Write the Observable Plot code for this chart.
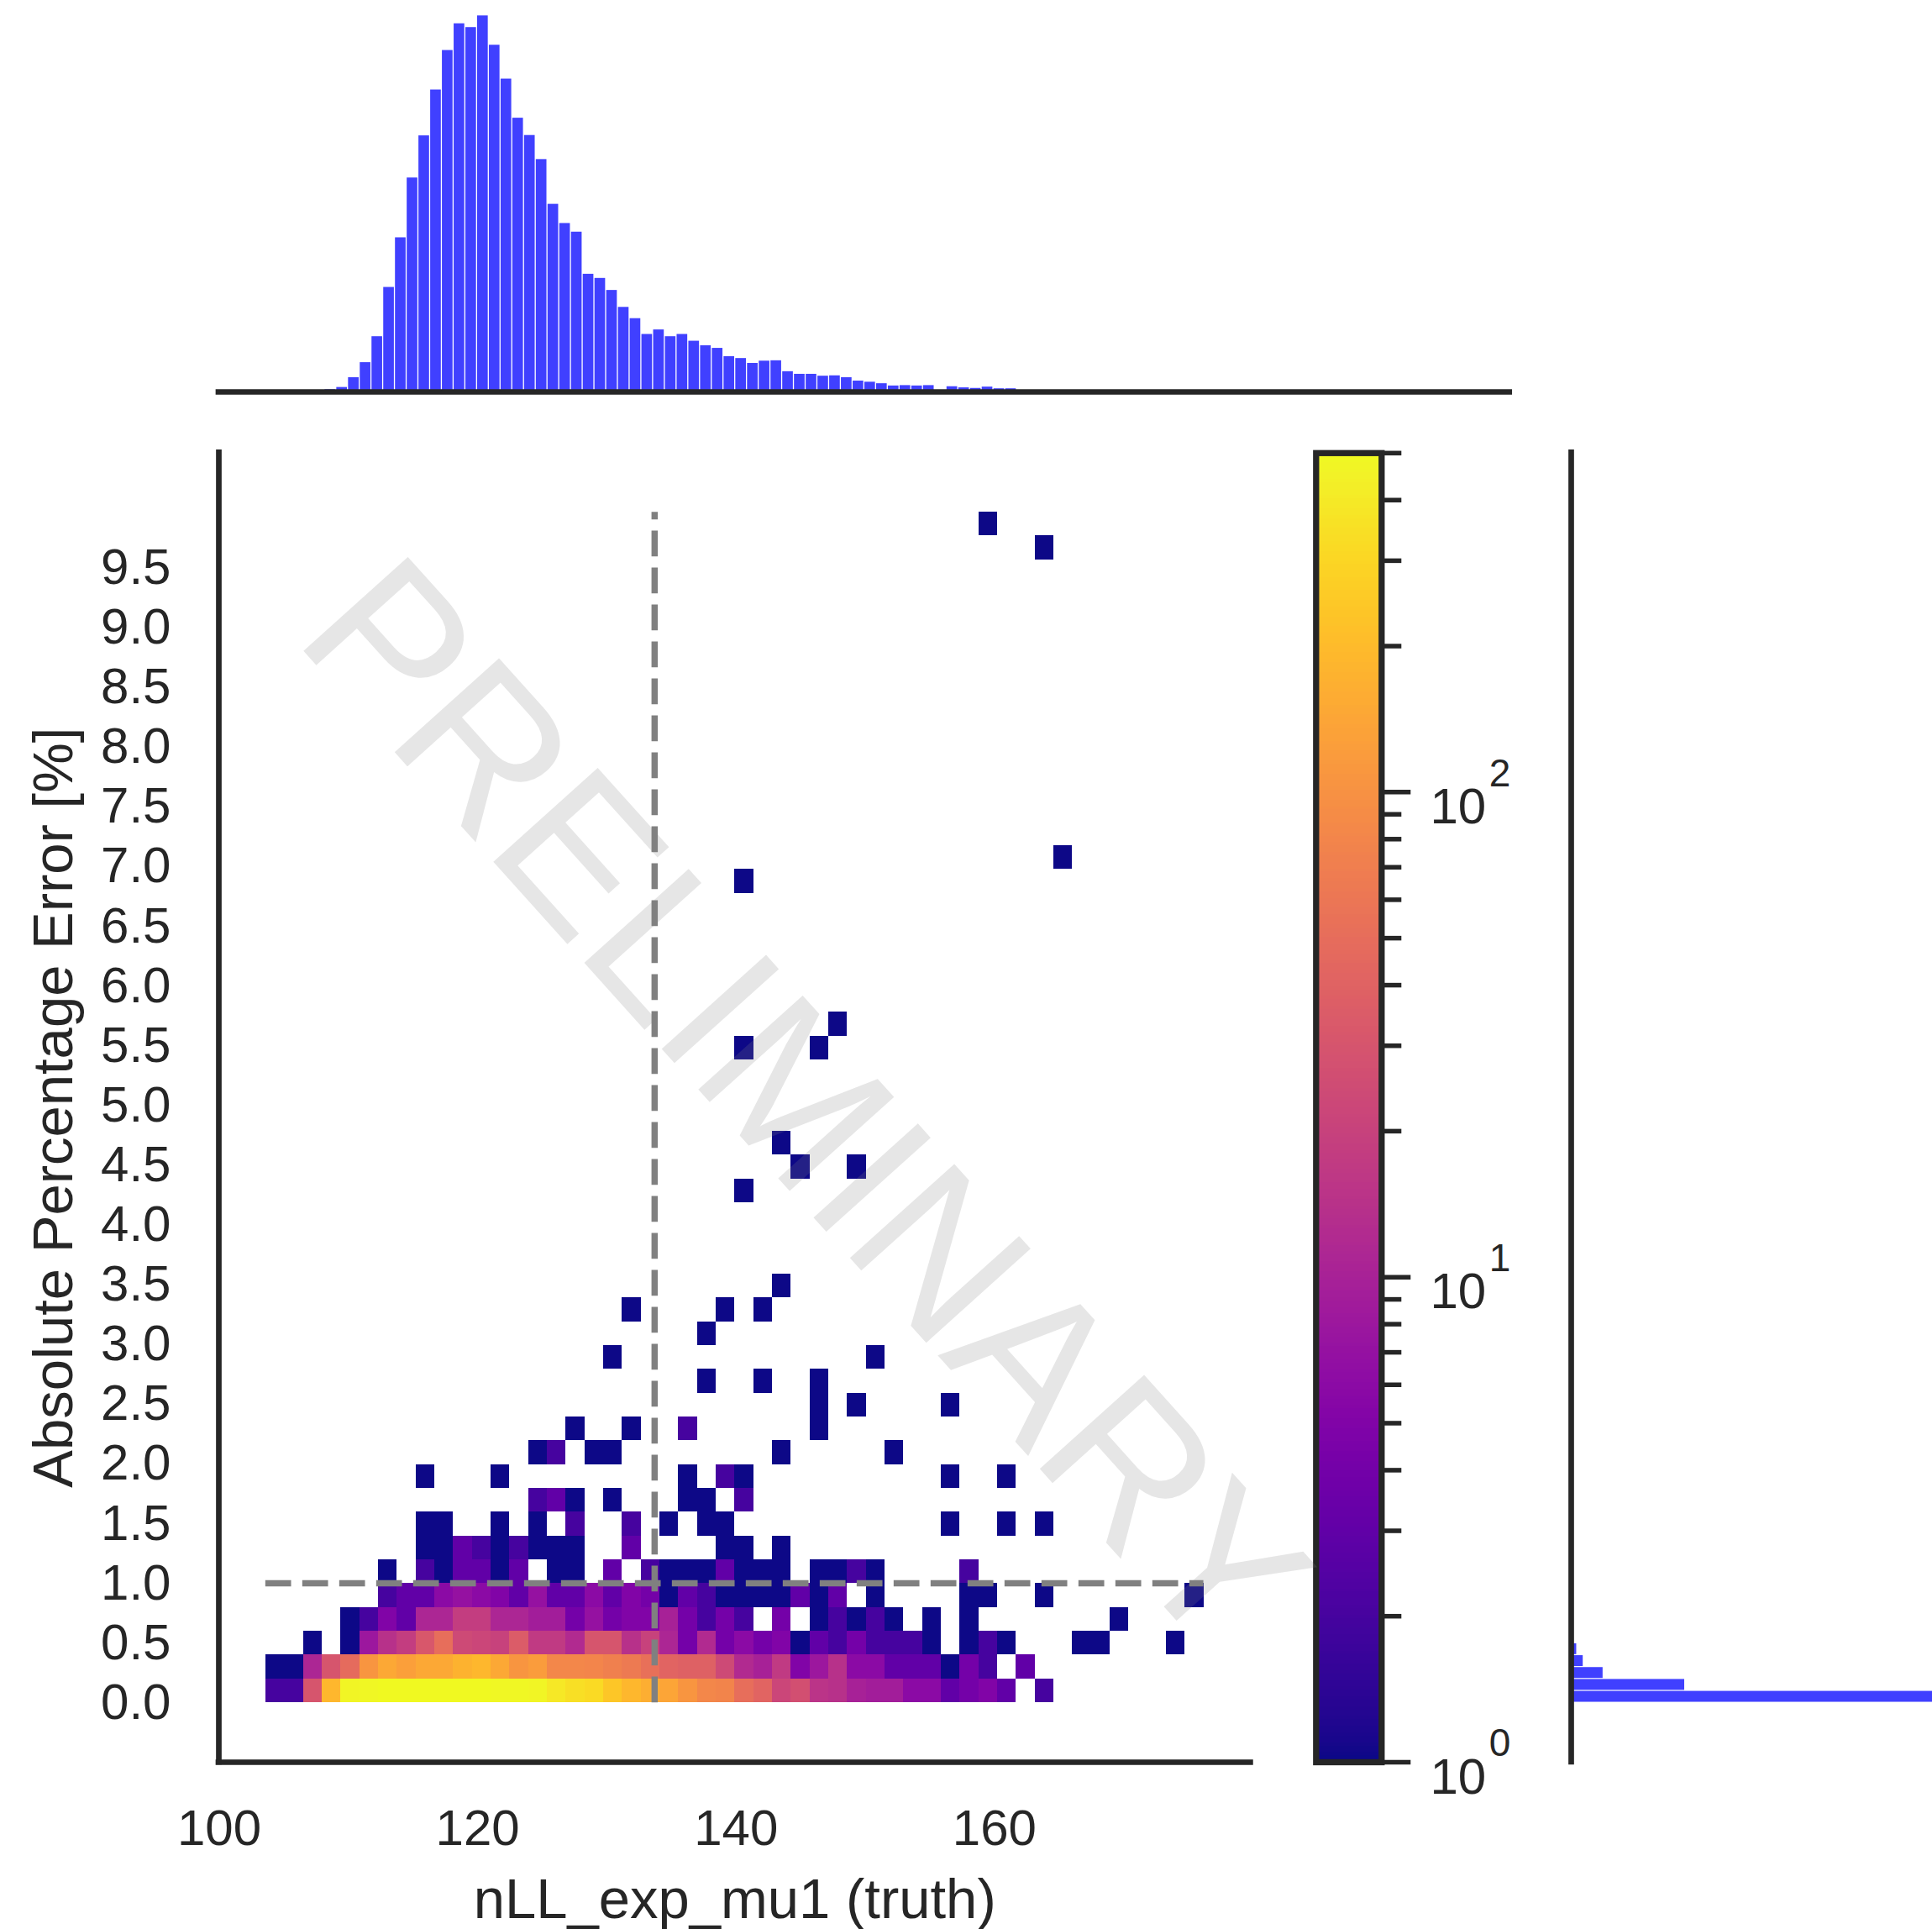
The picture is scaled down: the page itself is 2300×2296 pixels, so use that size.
<!DOCTYPE html>
<html>
<head>
<meta charset="utf-8">
<script src="https://cdn.jsdelivr.net/npm/d3@7"></script>
<script src="https://cdn.jsdelivr.net/npm/@observablehq/plot@0.6"></script>
<style>
  html, body { margin: 0; padding: 0; background: #ffffff; }
  #fig { position: relative; width: 2300px; height: 2296px; overflow: hidden; background: #ffffff; }
  #fig svg { position: absolute; left: 0; top: 0; background: transparent; overflow: visible; }
</style>
</head>
<body>
<div id="fig"></div>
<script>
// ---------------- DATA ----------------
// 2D histogram binning (50 x 50 bins)
const xMin = 103.6, xBinWidth = 1.452, nxBins = 50;
const yMin = 0, yBinHeight = 0.1993, nyBins = 50;

// dense lower rows of the 2D histogram (row 0 = lowest error bin), counts per x bin
const heatRow0 = [2,2,30,185,475,485,490,495,500,495,490,490,485,480,470,390,345,320,240,185,160,140,106,82,78,50,42,22,27,15,14,10,9,9,6,6,3,4,5,3,0,2,0,0,0,0,0,0,0,0];
const heatRow1 = [1,1,11,30,48,106,145,128,145,145,172,185,145,106,120,82,82,80,73,64,53,42,39,39,24,12,10,17,5,8,14,6,6,3,3,3,1,4,2,0,3,0,0,0,0,0,0,0,0,0];
const heatRow2 = [0,0,1,0,1,8,14,18,32,50,24,22,20,35,17,17,12,30,30,14,20,11,4,12,4,6,4,5,1,3,2,4,2,2,2,1,0,1,2,1,0,0,0,1,1,0,0,0,1,0];
const heatRow3 = [0,0,0,0,1,2,5,3,11,11,18,18,11,11,9,9,4,7,4,5,5,10,4,2,4,2,0,4,0,1,2,1,2,1,0,1,0,1,0,0,0,0,0,0,0,1,0,0,0,0];
const heatRow4 = [0,0,0,0,0,0,2,3,3,6,7,6,5,3,7,3,3,6,3,5,4,1,3,2,1,1,1,1,3,1,3,0,1,0,0,0,0,1,1,0,0,1,0,0,0,0,0,0,0,1];
const heatRow5 = [0,0,0,0,0,0,1,0,2,1,3,3,1,3,0,1,1,0,3,0,2,1,1,1,3,1,1,1,0,1,1,2,1,0,0,0,0,2,0,0,0,0,0,0,0,0,0,0,0,0];
// sparse upper cells: [row, col, count]
const heatSparse = [
  [6,8,1],[6,9,1],[6,10,3],[6,11,2],[6,12,1],[6,13,2],[6,14,1],[6,15,1],[6,16,1],[6,19,3],[6,24,1],[6,25,1],[6,27,1],
  [7,8,1],[7,9,1],[7,12,1],[7,14,1],[7,16,2],[7,19,2],[7,21,1],[7,23,1],[7,24,1],[7,36,1],[7,39,1],[7,41,1],
  [8,14,2],[8,15,3],[8,16,1],[8,18,1],[8,22,1],[8,23,1],[8,25,2],
  [9,8,1],[9,12,1],[9,22,1],[9,24,2],[9,25,1],[9,36,1],[9,39,1],
  [10,14,1],[10,15,2],[10,17,1],[10,18,1],[10,27,1],[10,33,1],
  [11,16,1],[11,19,1],[11,22,2],[11,29,1],
  [12,29,1],[12,31,1],[12,36,1],
  [13,23,1],[13,26,1],[13,29,1],
  [14,18,1],[14,32,1],
  [15,23,1],
  [16,19,1],[16,24,1],[16,26,1],
  [17,27,1],
  [21,25,1],
  [22,28,1],[22,31,1],
  [23,27,1],
  [27,25,1],[27,29,1],
  [28,30,1],
  [34,25,1],
  [35,42,1],
  [48,41,1],
  [49,38,1]
];

// top marginal histogram: 100 bins of width xBinWidth/2 starting at xMin (relative counts)
const topHistCounts = [0,0,1,3,6,12,38,78,147,278,410,569,681,803,908,979,969,1000,922,832,728,682,618,499,448,425,313,302,270,225,195,153,165,147,153,135,123,116,94,89,76,82,83,54,47,47,42,43,38,29,26,22,16,17,16,17,0,14,11,9.5,13,8.5,8.5];
// right marginal histogram: 100 bins of width yBinHeight/2 starting at 0 (relative counts)
const rightHistCounts = [1600,314,88,33,15,3];

const truthLine = 133.7;   // vertical dashed reference line (x)
const errorLine = 1.0;     // horizontal dashed reference line (y)

const xTicks = [100, 120, 140, 160];
const yTicks = [0.0,0.5,1.0,1.5,2.0,2.5,3.0,3.5,4.0,4.5,5.0,5.5,6.0,6.5,7.0,7.5,8.0,8.5,9.0,9.5];
const cbarMajor = [1, 10, 100];
const cbarMinor = [2,3,4,5,6,7,8,9,20,30,40,50,60,70,80,90,200,300,400,500];
const colorDomain = [1, 500];

const xLabel = "nLL_exp_mu1 (truth)";
const yLabel = "Absolute Percentage Error [%]";
const watermark = "PRELIMINARY";

// ---------------- LAYOUT ----------------
const W = 2300, H = 2296;
const FONT = '"Liberation Sans", Arial, Helvetica, sans-serif';
const INK = "#262626";
const SPINE = 6.7;
const mainBox  = {left: 260,    right: 1488.4, top: 538.3, bottom: 2097};
const topBox   = {left: 260,    right: 1796.7, top: 0,     bottom: 466};
const cbarBox  = {left: 1566.3, right: 1644.3, top: 538.8, bottom: 2097};
const rightBox = {left: 1870,   right: 2300,   top: 538.3, bottom: 2097};
function margins(b) {
  return {marginLeft: b.left, marginRight: W - b.right, marginTop: b.top, marginBottom: H - b.bottom};
}
const baseStyle = {background: "transparent", color: INK, fontFamily: FONT, overflow: "visible"};

const xMax = xMin + nxBins * xBinWidth;
const yMax = yMin + nyBins * yBinHeight;
const xPad = 0.05 * (xMax - xMin), yPad = 0.05 * (yMax - yMin);
const xDomain = [xMin - xPad, xMax + xPad];
const yDomain = [yMin - yPad, yMax + yPad];

// ---------------- MAIN 2D HISTOGRAM ----------------
const cells = [];
[heatRow0, heatRow1, heatRow2, heatRow3, heatRow4, heatRow5].forEach((row, r) =>
  row.forEach((n, c) => { if (n > 0) cells.push({r, c, n}); }));
heatSparse.forEach(([r, c, n]) => cells.push({r, c, n}));

const fig = document.getElementById("fig");

const mainPlot = Plot.plot({
  width: W, height: H, ...margins(mainBox),
  style: baseStyle,
  x: {domain: xDomain},
  y: {domain: yDomain},
  color: {type: "log", scheme: "plasma", domain: colorDomain},
  marks: [
    Plot.rect(cells, {
      x1: d => xMin + d.c * xBinWidth, x2: d => xMin + (d.c + 1) * xBinWidth,
      y1: d => yMin + d.r * yBinHeight, y2: d => yMin + (d.r + 1) * yBinHeight,
      fill: "n", shapeRendering: "crispEdges"
    }),
    Plot.ruleX([truthLine], {y1: yMin, y2: yMax, stroke: "#808080", strokeWidth: 7.5, strokeDasharray: "30.7,13.3"}),
    Plot.ruleY([errorLine], {x1: xMin, x2: xMax, stroke: "#808080", strokeWidth: 7.5, strokeDasharray: "30.7,13.3"}),
    Plot.ruleX([xDomain[0]], {stroke: INK, strokeWidth: SPINE, strokeLinecap: "square"}),
    Plot.ruleY([yDomain[0]], {stroke: INK, strokeWidth: SPINE, strokeLinecap: "square"}),
    Plot.axisX({ticks: xTicks, tickSize: 0, tickPadding: 56, fontSize: 60, label: null, tickFormat: d => String(d)}),
    Plot.axisY({ticks: yTicks, tickSize: 0, tickPadding: 57, fontSize: 60, label: null, tickFormat: d => d.toFixed(1)}),
    Plot.text([xLabel], {frameAnchor: "bottom", textAnchor: "middle", lineAnchor: "middle", dy: 164, fontSize: 67, fill: INK}),
    Plot.text([yLabel], {frameAnchor: "left", textAnchor: "middle", lineAnchor: "middle", dx: -196, rotate: -90, fontSize: 67, fill: INK})
  ]
});
fig.appendChild(mainPlot);

// ---------------- TOP MARGINAL ----------------
const topBins = topHistCounts.map((n, i) => ({x1: xMin + i * xBinWidth / 2, x2: xMin + (i + 1) * xBinWidth / 2, n}));
const topPlot = Plot.plot({
  width: W, height: H, ...margins(topBox),
  style: baseStyle,
  x: {domain: xDomain, axis: null},
  y: {domain: [0, 1041], axis: null},
  marks: [
    Plot.rectY(topBins, {x1: "x1", x2: "x2", y: "n", fill: "#4040ff", insetLeft: 0.65, insetRight: 0.65}),
    Plot.ruleY([0], {stroke: INK, strokeWidth: SPINE, strokeLinecap: "square"})
  ]
});
fig.appendChild(topPlot);

// ---------------- RIGHT MARGINAL ----------------
const rightBins = rightHistCounts.map((n, i) => ({y1: yMin + i * yBinHeight / 2, y2: yMin + (i + 1) * yBinHeight / 2, n}));
const rightPlot = Plot.plot({
  width: W, height: H, ...margins(rightBox),
  style: baseStyle,
  x: {domain: [0, 1000], axis: null},
  y: {domain: yDomain, axis: null},
  marks: [
    Plot.rectX(rightBins, {y1: "y1", y2: "y2", x: "n", fill: "#4040ff", insetTop: 0.6, insetBottom: 0.6}),
    Plot.ruleX([0], {stroke: INK, strokeWidth: SPINE, strokeLinecap: "square"})
  ]
});
fig.appendChild(rightPlot);

// ---------------- COLORBAR ----------------
const logTop = Math.log10(colorDomain[1]);
const rampSteps = d3.range(0, 400).map(i => ({a: Math.pow(10, logTop * i / 400), b: Math.pow(10, logTop * (i + 1) / 400)}));
const cbarPlot = Plot.plot({
  width: W, height: H, ...margins(cbarBox),
  style: baseStyle,
  y: {type: "log", domain: colorDomain, axis: null},
  color: {type: "log", scheme: "plasma", domain: colorDomain},
  marks: [
    Plot.rect(rampSteps, {y1: "a", y2: "b", fill: d => Math.sqrt(d.a * d.b), shapeRendering: "crispEdges"}),
    Plot.frame({stroke: INK, strokeWidth: 7.3}),
    Plot.axisY({anchor: "right", ticks: cbarMinor, tickSize: 23, strokeWidth: 5.5, stroke: INK, tickFormat: () => "", label: null}),
    Plot.axisY({anchor: "right", ticks: cbarMajor, tickSize: 34, strokeWidth: 5.5, stroke: INK, tickFormat: () => "", label: null}),
    Plot.text(cbarMajor, {y: d => d, text: () => "10", frameAnchor: "right", textAnchor: "start", lineAnchor: "middle", dx: 57.7, dy: 18, fontSize: 60, fill: INK}),
    Plot.text(cbarMajor, {y: d => d, text: d => String(Math.round(Math.log10(d))), frameAnchor: "right", textAnchor: "start", lineAnchor: "middle", dx: 128, dy: -22, fontSize: 46, fill: INK})
  ]
});
fig.appendChild(cbarPlot);

// ---------------- WATERMARK ----------------
const wmPlot = Plot.plot({
  width: W, height: H, margin: 0,
  style: baseStyle,
  marks: [
    Plot.text([watermark], {frameAnchor: "top-left", dx: 955, dy: 1318, textAnchor: "middle", lineAnchor: "middle",
      rotate: 48, fontSize: 243, fill: "#808080", fillOpacity: 0.2})
  ]
});
fig.appendChild(wmPlot);
</script>
</body>
</html>
